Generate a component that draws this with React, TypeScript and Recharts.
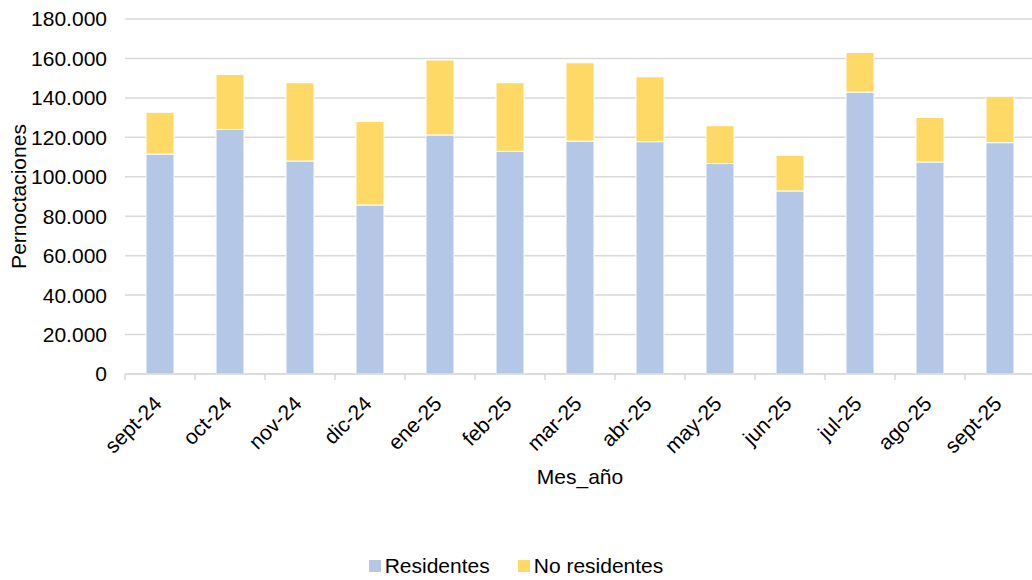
import { BarChart, Bar, XAxis, YAxis, CartesianGrid, Legend, Label } from "recharts";

const meses = ["sept-24", "oct-24", "nov-24", "dic-24", "ene-25", "feb-25", "mar-25", "abr-25", "may-25", "jun-25", "jul-25", "ago-25", "sept-25"];
const residentes = [111500, 124000, 108000, 85700, 121200, 112900, 118100, 117800, 106700, 92800, 142900, 107500, 117300];
const noResidentes = [21200, 27900, 39700, 42400, 38000, 34800, 39700, 32900, 19200, 18100, 20100, 22600, 23500];
const yTicks = [0, 20000, 40000, 60000, 80000, 100000, 120000, 140000, 160000, 180000];

const FONT = "'Liberation Sans', Arial, sans-serif";
const AZUL = "#B4C7E7";
const AMARILLO = "#FFD966";

const data = meses.map((m, i) => ({ mes: m, res: residentes[i], nores: noResidentes[i] }));

// separador de miles con punto
const fmt = (v: number) => String(v).replace(/\B(?=(\d{3})+(?!\d))/g, ".");

function MesTick(props: any) {
  const { x, y, payload, index, width, visibleTicksCount } = props;
  const band = width / visibleTicksCount;
  return (
    <g>
      <line x1={x - band / 2} y1={y} x2={x - band / 2} y2={y + 6} stroke="#d9d9d9" strokeWidth={1.5} />
      {index === visibleTicksCount - 1 && (
        <line x1={x + band / 2} y1={y} x2={x + band / 2} y2={y + 6} stroke="#d9d9d9" strokeWidth={1.5} />
      )}
      <text
        x={x + 3}
        y={y + 31}
        transform={`rotate(-45 ${x + 3} ${y + 31})`}
        textAnchor="end"
        fontSize={21}
        fontFamily={FONT}
        fill="#000"
      >
        {payload.value}
      </text>
    </g>
  );
}

function Leyenda() {
  const items = [
    { name: "Residentes", color: AZUL },
    { name: "No residentes", color: AMARILLO },
  ];
  return (
    <div style={{ display: "flex", justifyContent: "center", fontFamily: FONT, fontSize: 21, color: "#000", height: 28, alignItems: "center" }}>
      {items.map((it) => (
        <div key={it.name} style={{ display: "flex", alignItems: "center", margin: "0 14px" }}>
          <span style={{ width: 12, height: 12, background: it.color, display: "inline-block", marginRight: 4 }} />
          <span>{it.name}</span>
        </div>
      ))}
    </div>
  );
}

export default function App() {
  return (
    <div style={{ position: "absolute", left: 0, top: 0, background: "#fff", width: 1032, height: 580, overflow: "hidden" }}>
      <BarChart width={1035} height={580} data={data} margin={{ top: 19, right: 0, left: 0, bottom: 0 }} barSize={28}>
        <CartesianGrid vertical={false} stroke="#d9d9d9" strokeWidth={1.5} />
        <XAxis
          dataKey="mes"
          height={178}
          axisLine={{ stroke: "#d9d9d9", strokeWidth: 1.5 }}
          tickLine={false}
          tickSize={0}
          tickMargin={0}
          interval={0}
          tick={<MesTick />}
        >
          <Label
            content={(p: any) => {
              const vb = p.viewBox;
              return (
                <text x={vb.x + vb.width / 2} y={vb.y + 110} textAnchor="middle" fontSize={21} fontFamily={FONT} fill="#000">
                  Mes_año
                </text>
              );
            }}
          />
        </XAxis>
        <YAxis
          width={125}
          domain={[0, 180000]}
          ticks={yTicks}
          tickFormatter={fmt}
          axisLine={false}
          tickLine={false}
          tickSize={0}
          tickMargin={18}
          tick={{ fontSize: 21, fontFamily: FONT, fill: "#000" }}
        >
          <Label
            content={(p: any) => {
              const vb = p.viewBox;
              const cx = 18;
              const cy = vb.y + vb.height / 2;
              return (
                <text x={cx} y={cy} transform={`rotate(-90 ${cx} ${cy})`} textAnchor="middle" dominantBaseline="central" fontSize={21} fontFamily={FONT} fill="#000">
                  Pernoctaciones
                </text>
              );
            }}
          />
        </YAxis>
        <Legend verticalAlign="bottom" wrapperStyle={{ width: 1032 }} content={<Leyenda />} />
        <Bar dataKey="res" name="Residentes" stackId="a" fill={AZUL} stroke="#ffffff" strokeWidth={1} isAnimationActive={false} />
        <Bar dataKey="nores" name="No residentes" stackId="a" fill={AMARILLO} stroke="#ffffff" strokeWidth={1} isAnimationActive={false} />
      </BarChart>
    </div>
  );
}
